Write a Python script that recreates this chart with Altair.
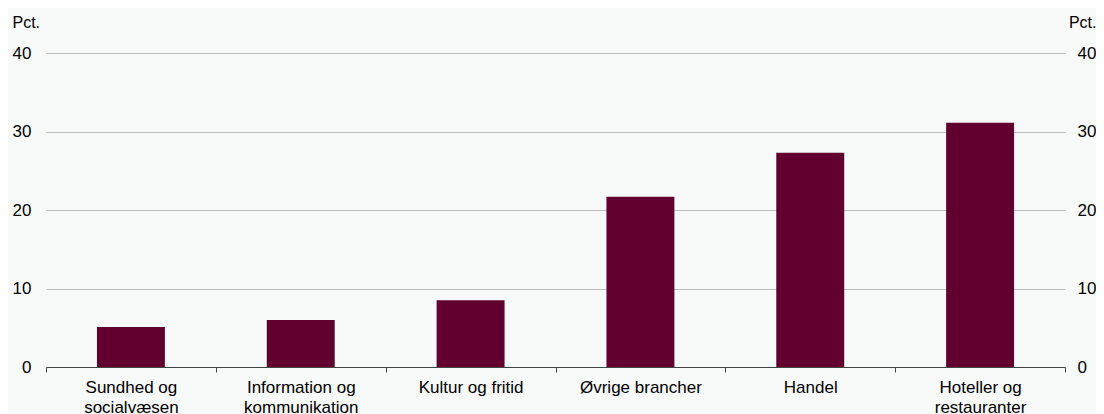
import altair as alt
import pandas as pd

categories = ["Sundhed og\nsocialvæsen", "Information og\nkommunikation", "Kultur og fritid",
              "Øvrige brancher", "Handel", "Hoteller og\nrestauranter"]
values = [5.1, 6.0, 8.5, 21.7, 27.3, 31.1]
y_ticks = [0, 10, 20, 30, 40]

df = pd.DataFrame({"cat": categories, "val": values})

FONT = "Liberation Sans"
BG = "#F8F9F9"
FS = 17

x_enc = alt.X("cat:N", sort=categories,
              scale=alt.Scale(paddingInner=0, paddingOuter=0),
              axis=alt.Axis(title=None, labelAngle=0,
                            labelExpr="datum.value ? split(datum.value, '\\n') : ''",
                            tickBand="extent", ticks=True, tickSize=5, tickColor="#444444",
                            domainColor="#444444", domainWidth=1, labelPadding=7,
                            labelLineHeight=20, labelFontSize=FS, labelFont=FONT,
                            labelColor="#000000", grid=False, labelBaseline="top"))

base = alt.Chart(df)

bars = base.mark_bar(color="#61002F", width=alt.RelativeBandSize(0.4)).encode(
    x=x_enc,
    y=alt.Y("val:Q", scale=alt.Scale(domain=[0, 40]),
            axis=alt.Axis(values=y_ticks, title="Pct.", titleAngle=0, titleAlign="left",
                          titleBaseline="alphabetic", titleX=-34, titleY=-26,
                          titleFont=FONT, titleFontSize=16, titleFontWeight="normal",
                          titleColor="#000000", labelFont=FONT, labelFontSize=FS,
                          labelColor="#000000", labelPadding=15, ticks=False, domain=False,
                          grid=True, gridColor="#BBBBBB", gridWidth=1)),
)

right = base.mark_bar(opacity=0).encode(
    x=x_enc,
    y=alt.Y("val:Q", scale=alt.Scale(domain=[0, 40]),
            axis=alt.Axis(orient="right", values=y_ticks, title="Pct.", titleAngle=0,
                          titleAlign="right", titleBaseline="alphabetic", titleX=31, titleY=-26,
                          titleFont=FONT, titleFontSize=16, titleFontWeight="normal",
                          titleColor="#000000", labelFont=FONT, labelFontSize=FS,
                          labelColor="#000000", labelPadding=12, ticks=False, domain=False,
                          grid=False)),
)

chart = alt.layer(bars, right).resolve_scale(y="independent").properties(
    width=1019, height=314,
    autosize=alt.AutoSizeParams(type="none"),
    padding={"left": 38, "top": 45, "right": 31, "bottom": 47},
    background=BG,
).configure_view(stroke=None)

chart.save("out.html", embed_options={"renderer": "svg", "actions": False})
